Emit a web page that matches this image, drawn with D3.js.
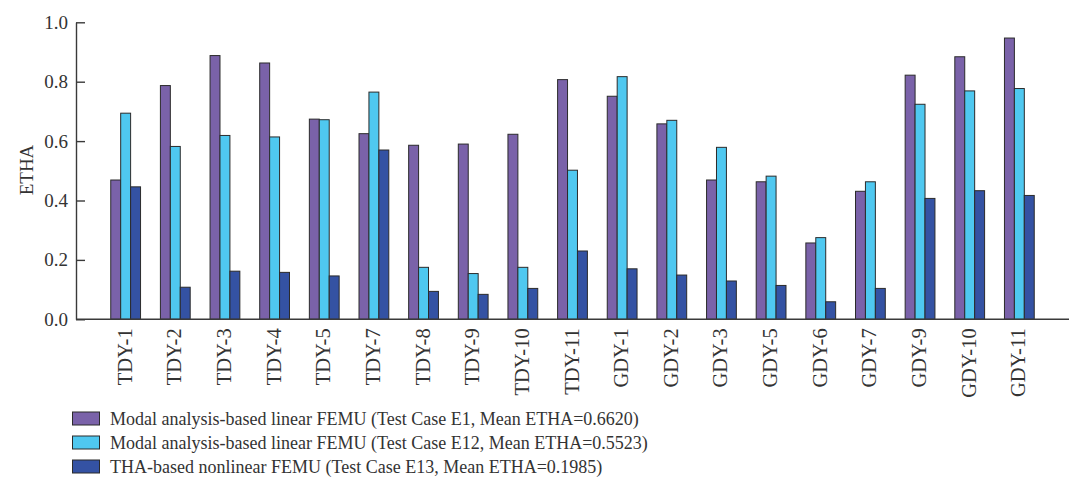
<!DOCTYPE html>
<html>
<head>
<meta charset="utf-8">
<script src="https://cdn.jsdelivr.net/npm/d3@7"></script>
<style>
  body { margin: 0; background: #fff; }
  text { font-family: "Liberation Serif", "DejaVu Serif", serif; fill: #333; }
</style>
</head>
<body>
<script>
// categories (test sites) along the x axis
var sites = ["TDY-1", "TDY-2", "TDY-3", "TDY-4", "TDY-5", "TDY-7", "TDY-8", "TDY-9", "TDY-10", "TDY-11",
             "GDY-1", "GDY-2", "GDY-3", "GDY-5", "GDY-6", "GDY-7", "GDY-9", "GDY-10", "GDY-11"];

// ETHA values
var caseE1  = [0.469, 0.787, 0.888, 0.863, 0.674, 0.625, 0.586, 0.590, 0.623, 0.807,
               0.751, 0.658, 0.469, 0.463, 0.257, 0.431, 0.822, 0.884, 0.947];
var caseE12 = [0.694, 0.582, 0.619, 0.614, 0.672, 0.765, 0.175, 0.154, 0.175, 0.502,
               0.817, 0.670, 0.579, 0.482, 0.275, 0.463, 0.724, 0.769, 0.777];
var caseE13 = [0.446, 0.108, 0.162, 0.158, 0.146, 0.570, 0.094, 0.084, 0.104, 0.230,
               0.170, 0.149, 0.129, 0.114, 0.059, 0.104, 0.407, 0.433, 0.417];

var seriesNames = ["Modal analysis-based linear FEMU (Test Case E1, Mean ETHA=0.6620)",
                   "Modal analysis-based linear FEMU (Test Case E12, Mean ETHA=0.5523)",
                   "THA-based nonlinear FEMU (Test Case E13, Mean ETHA=0.1985)"];
var yTicks = [0, 0.2, 0.4, 0.6, 0.8, 1.0];

var colors = ["#7a62a9", "#4fc8f0", "#3452a3"];
var series = [caseE1, caseE12, caseE13];

var width = 1080, height = 482;
var svg = d3.select("body").append("svg")
    .attr("width", width)
    .attr("height", height);

// plot area (note: "top" is taken by window.top, so use other names)
var plotLeft = 76, plotRight = 1069, plotTop = 22.3, plotBottom = 319.3;

var x = d3.scaleBand()
    .domain(sites)
    .range([plotLeft, plotRight])
    .paddingInner(0.4)
    .paddingOuter(0.7);

var xSub = d3.scaleBand()
    .domain([0, 1, 2])
    .range([0, x.bandwidth()]);

var y = d3.scaleLinear()
    .domain([0, 1])
    .range([plotBottom, plotTop]);

// bars
var groups = svg.selectAll("g.site")
    .data(sites)
    .enter()
    .append("g")
    .attr("class", "site")
    .attr("transform", function (d) { return "translate(" + x(d) + ",0)"; });

groups.selectAll("rect")
    .data(function (d, i) { return series.map(function (s, k) { return {k: k, v: s[i]}; }); })
    .enter()
    .append("rect")
    .attr("x", function (d) { return xSub(d.k); })
    .attr("y", function (d) { return y(d.v); })
    .attr("width", xSub.bandwidth())
    .attr("height", function (d) { return plotBottom - y(d.v); })
    .style("fill", function (d) { return colors[d.k]; })
    .style("stroke", "#2b2b2b")
    .style("stroke-width", 1);

// y axis, ticks pointing inward
var yAxis = svg.append("g")
    .attr("transform", "translate(" + plotLeft + ",0)")
    .call(d3.axisLeft(y)
        .tickValues(yTicks)
        .tickFormat(d3.format(".1f"))
        .tickSizeInner(-9)
        .tickSizeOuter(0)
        .tickPadding(8));
yAxis.selectAll("path, line").style("stroke", "#3a3a3a").style("stroke-width", 1.4);
yAxis.selectAll("text").style("font-size", "19px").style("fill", "#333")
    .style("font-family", "'Liberation Serif', serif");

// x axis line
svg.append("line")
    .attr("x1", plotLeft).attr("x2", plotRight)
    .attr("y1", plotBottom).attr("y2", plotBottom)
    .style("stroke", "#3a3a3a")
    .style("stroke-width", 1.4);

// x labels, rotated
svg.selectAll("text.xlab")
    .data(sites)
    .enter()
    .append("text")
    .attr("class", "xlab")
    .attr("transform", function (d) {
        return "translate(" + (x(d) + x.bandwidth() / 2 + 6) + "," + (plotBottom + 9) + ") rotate(-90)";
    })
    .attr("text-anchor", "end")
    .style("font-size", "20.5px")
    .text(function (d) { return d; });

// y axis title
svg.append("text")
    .attr("transform", "translate(33,170) rotate(-90)")
    .attr("text-anchor", "middle")
    .style("font-size", "19px")
    .text("ETHA");

// legend
var legend = svg.selectAll("g.legend")
    .data(seriesNames)
    .enter()
    .append("g")
    .attr("class", "legend")
    .attr("transform", function (d, i) { return "translate(72," + (418.5 + i * 24) + ")"; });

legend.append("rect")
    .attr("x", 0.5).attr("y", -6.5)
    .attr("width", 27).attr("height", 13)
    .style("fill", function (d, i) { return colors[i]; })
    .style("stroke", "#2b2b2b")
    .style("stroke-width", 1);

legend.append("text")
    .attr("x", 38)
    .attr("y", 6)
    .style("font-size", "18px")
    .text(function (d) { return d; });
</script>
</body>
</html>
